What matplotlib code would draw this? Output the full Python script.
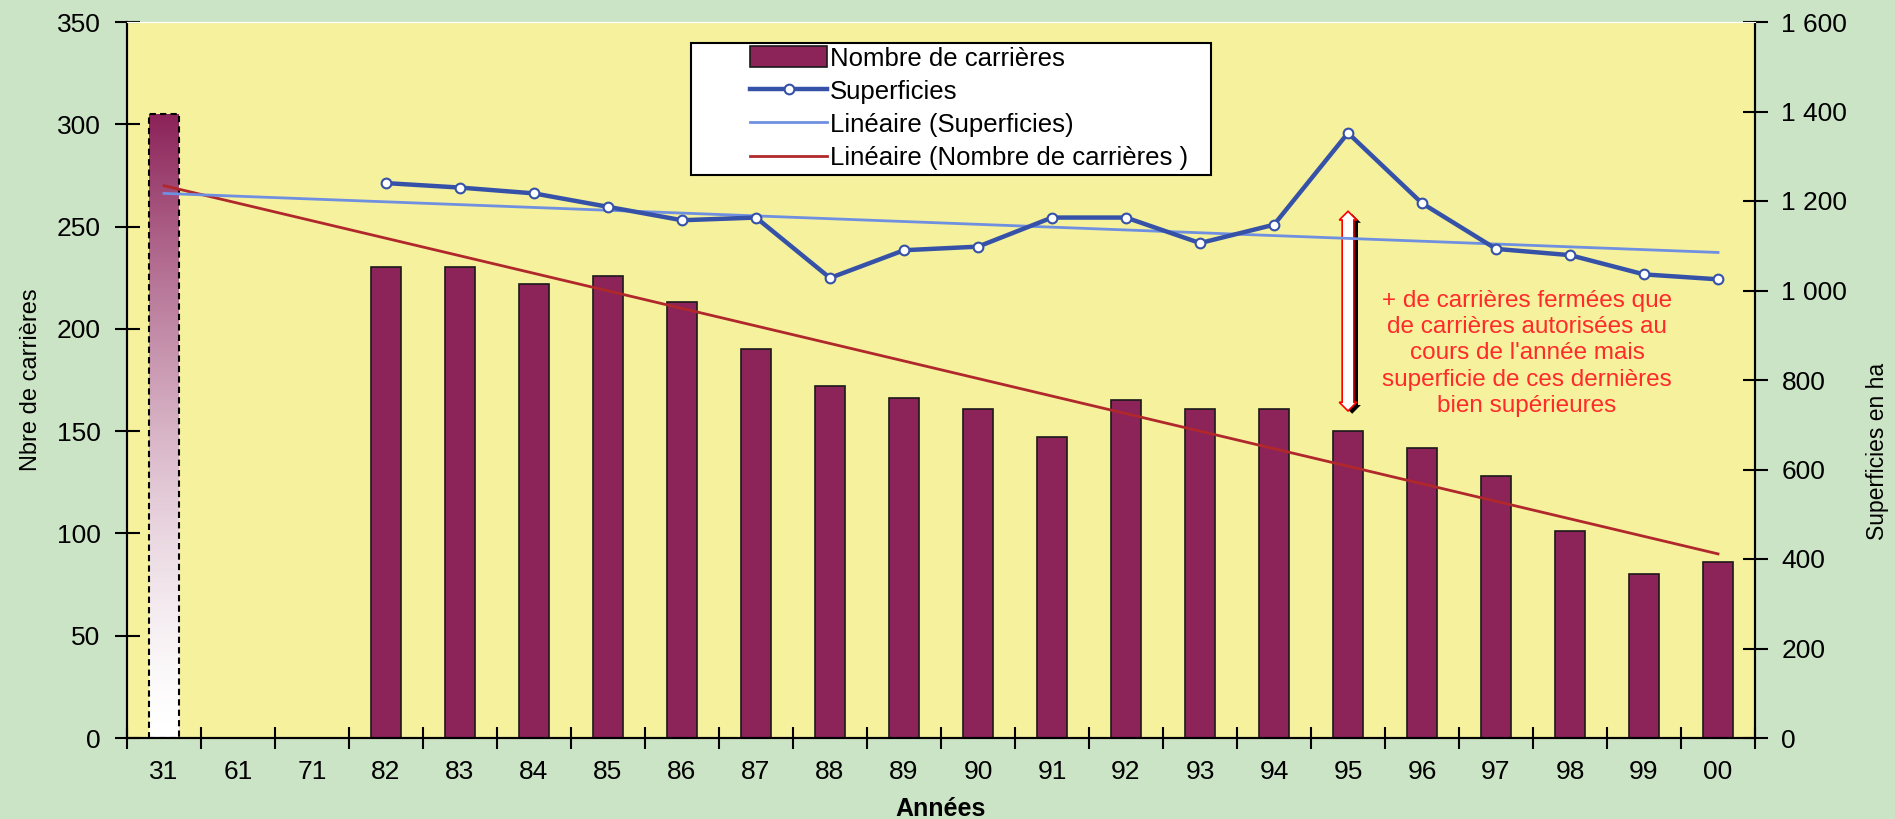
import matplotlib.pyplot as plt
import matplotlib.patheffects as pe
from matplotlib.patches import Rectangle
from matplotlib.ticker import FixedLocator, FuncFormatter
from matplotlib.colors import LinearSegmentedColormap
import numpy as np

plt.rcParams['font.family'] = ['Liberation Sans', 'DejaVu Sans']

# data
annees = ['31', '61', '71', '82', '83', '84', '85', '86', '87', '88', '89',
          '90', '91', '92', '93', '94', '95', '96', '97', '98', '99', '00']
nb_carrieres = [305, None, None, 230, 230, 222, 226, 213, 190, 172, 166,
                161, 147, 165, 161, 161, 150, 142, 128, 101, 80, 86]
superficies = [None, None, None, 1240, 1230, 1217, 1187, 1157, 1163, 1028, 1090,
               1098, 1163, 1163, 1106, 1147, 1352, 1195, 1093, 1079, 1036, 1025]
# linear trend lines (Excel), value at first and last category
tendance_sup = [1217, 1085]
tendance_nb = [270, 90]

note = ("+ de carrières fermées que\nde carrières autorisées au\n"
        "cours de l'année mais\nsuperficie de ces dernières\nbien supérieures")

bg_fig = '#cce4c6'
bg_ax = '#f5f19c'
bar_col = '#8c2359'
line_col = '#3552a8'

fig = plt.figure(figsize=(18.95, 8.19), dpi=100, facecolor=bg_fig)
ax = fig.add_axes([127 / 1895, 1 - 738 / 819, (1755 - 127) / 1895, (738 - 22) / 819])
ax.set_facecolor(bg_ax)
ax2 = ax.twinx()

x = np.arange(len(annees))
w = 0.4

# bars (first one is drawn with a gradient and dashed outline)
vals = np.array([np.nan if v is None else v for v in nb_carrieres], dtype=float)
bars = ax.bar(x[1:], vals[1:], width=w, color=bar_col, edgecolor='#1a1a1a',
              linewidth=1.2, zorder=2)
first = ax.bar(x[0], vals[0], width=w, facecolor='none', edgecolor='black',
               linewidth=1.5, linestyle=(0, (3, 2)), zorder=3)[0]
grad = np.linspace(1, 0, 256).reshape(-1, 1) ** 1.5
cmap = LinearSegmentedColormap.from_list('g', ['white', bar_col])
im = ax.imshow(grad, extent=[x[0] - w / 2, x[0] + w / 2, 0, vals[0]], aspect='auto',
               cmap=cmap, vmin=0, vmax=1, zorder=2)
im.set_clip_path(first)

# trend of number of quarries
l_tnb, = ax.plot([x[0], x[-1]], tendance_nb, color='#b0282c', lw=2, zorder=4)

# superficies + trend
sup = np.array([np.nan if v is None else v for v in superficies], dtype=float)
l_tsup, = ax2.plot([x[0], x[-1]], tendance_sup, color='#6f8fe0', lw=2, zorder=3)
l_sup, = ax2.plot(x, sup, color=line_col, lw=3.2, marker='o', markersize=7,
                  markerfacecolor='white', markeredgecolor=line_col,
                  markeredgewidth=1.5, zorder=4)

ax.set_xlim(-0.5, len(annees) - 0.5)
ax.set_ylim(0, 350)
ax2.set_ylim(0, 1600)
ax.set_yticks(np.arange(0, 351, 50))
ax2.set_yticks(np.arange(0, 1601, 200))
ax2.yaxis.set_major_formatter(FuncFormatter(lambda v, p: f'{v:,.0f}'.replace(',', ' ')))

ax.set_xticks(x)
ax.set_xticklabels(annees)
ax.xaxis.set_minor_locator(FixedLocator(np.arange(-0.5, len(annees), 1)))
ax.tick_params(axis='x', which='major', length=0, pad=16, labelsize=19)
ax.tick_params(axis='x', which='minor', length=16, width=1.5, direction='inout')
ax.tick_params(axis='y', length=18, width=1.5, direction='inout', labelsize=19, pad=10)
ax2.tick_params(axis='y', length=18, width=1.5, direction='inout', labelsize=19, pad=10)

for a in (ax, ax2):
    a.spines['top'].set_color('white')
    a.spines['left'].set_linewidth(1.5)
    a.spines['right'].set_linewidth(1.5)
    a.spines['bottom'].set_linewidth(1.5)

ax.set_ylabel('Nbre de carrières', fontsize=17)
ax.yaxis.set_label_coords(-0.052, 0.5)
ax2.set_ylabel('Superficies en ha', fontsize=16.5)
ax2.yaxis.set_label_coords(1.068, 0.40)
ax.set_xlabel('Années', fontsize=18, fontweight='bold', labelpad=9)

# legend (frame drawn separately so the entries sit indented like the original)
ax2.add_patch(Rectangle((691 / 1895, 1 - 175 / 819), 520 / 1895, 132 / 819,
                        transform=fig.transFigure, facecolor='white', clip_on=False,
                        edgecolor='black', linewidth=1.5, zorder=9))
leg = ax2.legend([bars, l_sup, l_tsup, l_tnb],
                 ['Nombre de carrières', 'Superficies', 'Linéaire (Superficies)',
                  'Linéaire (Nombre de carrières )'],
                 loc='upper left', bbox_to_anchor=(750 / 1895, 1 - 46 / 819),
                 bbox_transform=fig.transFigure, fontsize=18.5, frameon=False,
                 handlelength=3.0, handleheight=0.9, handletextpad=0.12,
                 labelspacing=0.34, borderpad=0, borderaxespad=0)
leg.set_zorder(11)

# annotation: hollow double arrow with shadow + red note
t = ax.text(16, 209, ' ' * 125, rotation=90, fontsize=4, ha='center', va='center',
            bbox=dict(boxstyle='darrow,pad=0.6', fc='white', ec='red', lw=1.2), zorder=6)
t.get_bbox_patch().set_path_effects([
    pe.SimplePatchShadow(offset=(3, -2), shadow_rgbFace='black', alpha=1),
    pe.Normal()])
ax.text(18.42, 188, note, color='#ff2a2a', fontsize=17.5, ha='center', va='center',
        linespacing=1.25, zorder=6)

fig.savefig('out.png', dpi=100, facecolor=bg_fig)
